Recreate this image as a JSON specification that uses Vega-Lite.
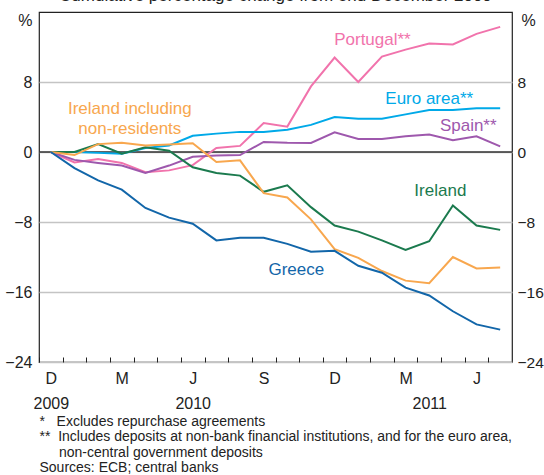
{
  "$schema": "https://vega.github.io/schema/vega-lite/v6.json",
  "width": 473,
  "height": 350,
  "autosize": {"type": "none"},
  "padding": {"left": 39, "top": 12, "right": 32, "bottom": 113},
  "config": {
    "view": {"stroke": "#222", "strokeWidth": 1.2},
    "font": "Liberation Sans",
    "axisX": {"labelOverlap": false}
  },
  "title": {
    "text": "Cumulative percentage change from end December 2009",
    "fontSize": 17,
    "fontWeight": "normal",
    "color": "#222",
    "baseline": "bottom",
    "offset": -9.5,
    "frame": "group",
    "anchor": "middle"
  },
  "datasets": {
    "zero": [{"v": 0}],
    "series": [
      {"s": "Portugal", "m": 0, "v": 0}, {"s": "Portugal", "m": 1, "v": -1.2}, {"s": "Portugal", "m": 2, "v": -0.8}, {"s": "Portugal", "m": 3, "v": -1.25}, {"s": "Portugal", "m": 4, "v": -2.3}, {"s": "Portugal", "m": 5, "v": -2.1}, {"s": "Portugal", "m": 6, "v": -1.5}, {"s": "Portugal", "m": 7, "v": 0.45}, {"s": "Portugal", "m": 8, "v": 0.7}, {"s": "Portugal", "m": 9, "v": 3.3}, {"s": "Portugal", "m": 10, "v": 2.9}, {"s": "Portugal", "m": 11, "v": 7.5}, {"s": "Portugal", "m": 12, "v": 10.8}, {"s": "Portugal", "m": 13, "v": 8.0}, {"s": "Portugal", "m": 14, "v": 10.9}, {"s": "Portugal", "m": 15, "v": 11.7}, {"s": "Portugal", "m": 16, "v": 12.4}, {"s": "Portugal", "m": 17, "v": 12.3}, {"s": "Portugal", "m": 18, "v": 13.5}, {"s": "Portugal", "m": 19, "v": 14.3},
      {"s": "Euro area", "m": 0, "v": 0}, {"s": "Euro area", "m": 1, "v": 0}, {"s": "Euro area", "m": 2, "v": -0.1}, {"s": "Euro area", "m": 3, "v": -0.2}, {"s": "Euro area", "m": 4, "v": 0.45}, {"s": "Euro area", "m": 5, "v": 0.75}, {"s": "Euro area", "m": 6, "v": 1.85}, {"s": "Euro area", "m": 7, "v": 2.1}, {"s": "Euro area", "m": 8, "v": 2.3}, {"s": "Euro area", "m": 9, "v": 2.3}, {"s": "Euro area", "m": 10, "v": 2.55}, {"s": "Euro area", "m": 11, "v": 3.1}, {"s": "Euro area", "m": 12, "v": 4.0}, {"s": "Euro area", "m": 13, "v": 3.8}, {"s": "Euro area", "m": 14, "v": 3.8}, {"s": "Euro area", "m": 15, "v": 4.3}, {"s": "Euro area", "m": 16, "v": 4.8}, {"s": "Euro area", "m": 17, "v": 4.8}, {"s": "Euro area", "m": 18, "v": 5.0}, {"s": "Euro area", "m": 19, "v": 5.0},
      {"s": "Spain", "m": 0, "v": 0}, {"s": "Spain", "m": 1, "v": -0.9}, {"s": "Spain", "m": 2, "v": -1.25}, {"s": "Spain", "m": 3, "v": -1.55}, {"s": "Spain", "m": 4, "v": -2.4}, {"s": "Spain", "m": 5, "v": -1.55}, {"s": "Spain", "m": 6, "v": -0.55}, {"s": "Spain", "m": 7, "v": -0.4}, {"s": "Spain", "m": 8, "v": -0.35}, {"s": "Spain", "m": 9, "v": 1.15}, {"s": "Spain", "m": 10, "v": 1.05}, {"s": "Spain", "m": 11, "v": 1.03}, {"s": "Spain", "m": 12, "v": 2.25}, {"s": "Spain", "m": 13, "v": 1.5}, {"s": "Spain", "m": 14, "v": 1.5}, {"s": "Spain", "m": 15, "v": 1.8}, {"s": "Spain", "m": 16, "v": 2.0}, {"s": "Spain", "m": 17, "v": 1.35}, {"s": "Spain", "m": 18, "v": 1.8}, {"s": "Spain", "m": 19, "v": 0.65},
      {"s": "Ireland", "m": 0, "v": 0}, {"s": "Ireland", "m": 1, "v": 0}, {"s": "Ireland", "m": 2, "v": 0.9}, {"s": "Ireland", "m": 3, "v": -0.2}, {"s": "Ireland", "m": 4, "v": 0.55}, {"s": "Ireland", "m": 5, "v": 0.15}, {"s": "Ireland", "m": 6, "v": -1.75}, {"s": "Ireland", "m": 7, "v": -2.4}, {"s": "Ireland", "m": 8, "v": -2.7}, {"s": "Ireland", "m": 9, "v": -4.55}, {"s": "Ireland", "m": 10, "v": -3.8}, {"s": "Ireland", "m": 11, "v": -6.3}, {"s": "Ireland", "m": 12, "v": -8.4}, {"s": "Ireland", "m": 13, "v": -9.1}, {"s": "Ireland", "m": 14, "v": -10.1}, {"s": "Ireland", "m": 15, "v": -11.2}, {"s": "Ireland", "m": 16, "v": -10.2}, {"s": "Ireland", "m": 17, "v": -6.1}, {"s": "Ireland", "m": 18, "v": -8.4}, {"s": "Ireland", "m": 19, "v": -8.9},
      {"s": "Ireland incl", "m": 0, "v": 0}, {"s": "Ireland incl", "m": 1, "v": -0.35}, {"s": "Ireland incl", "m": 2, "v": 0.9}, {"s": "Ireland incl", "m": 3, "v": 1.05}, {"s": "Ireland incl", "m": 4, "v": 0.75}, {"s": "Ireland incl", "m": 5, "v": 0.85}, {"s": "Ireland incl", "m": 6, "v": 1.0}, {"s": "Ireland incl", "m": 7, "v": -1.15}, {"s": "Ireland incl", "m": 8, "v": -0.95}, {"s": "Ireland incl", "m": 9, "v": -4.7}, {"s": "Ireland incl", "m": 10, "v": -5.2}, {"s": "Ireland incl", "m": 11, "v": -7.7}, {"s": "Ireland incl", "m": 12, "v": -11.1}, {"s": "Ireland incl", "m": 13, "v": -12.1}, {"s": "Ireland incl", "m": 14, "v": -13.6}, {"s": "Ireland incl", "m": 15, "v": -14.7}, {"s": "Ireland incl", "m": 16, "v": -15.0}, {"s": "Ireland incl", "m": 17, "v": -12.0}, {"s": "Ireland incl", "m": 18, "v": -13.3}, {"s": "Ireland incl", "m": 19, "v": -13.2},
      {"s": "Greece", "m": 0, "v": 0}, {"s": "Greece", "m": 1, "v": -1.85}, {"s": "Greece", "m": 2, "v": -3.25}, {"s": "Greece", "m": 3, "v": -4.3}, {"s": "Greece", "m": 4, "v": -6.4}, {"s": "Greece", "m": 5, "v": -7.5}, {"s": "Greece", "m": 6, "v": -8.2}, {"s": "Greece", "m": 7, "v": -10.1}, {"s": "Greece", "m": 8, "v": -9.8}, {"s": "Greece", "m": 9, "v": -9.8}, {"s": "Greece", "m": 10, "v": -10.5}, {"s": "Greece", "m": 11, "v": -11.4}, {"s": "Greece", "m": 12, "v": -11.3}, {"s": "Greece", "m": 13, "v": -13.0}, {"s": "Greece", "m": 14, "v": -13.8}, {"s": "Greece", "m": 15, "v": -15.5}, {"s": "Greece", "m": 16, "v": -16.4}, {"s": "Greece", "m": 17, "v": -18.2}, {"s": "Greece", "m": 18, "v": -19.7}, {"s": "Greece", "m": 19, "v": -20.3}
    ],
    "labels": [
      {"s": "Portugal", "m": 13.6, "v": 12.8, "t": "Portugal**"},
      {"s": "Euro area", "m": 16.0, "v": 6.1, "t": "Euro area**"},
      {"s": "Spain", "m": 17.65, "v": 3.0, "t": "Spain**"},
      {"s": "Ireland incl", "m": 3.34, "v": 4.95, "t": ["Ireland including", "non-residents"]},
      {"s": "Ireland", "m": 16.47, "v": -4.5, "t": "Ireland"},
      {"s": "Greece", "m": 10.38, "v": -13.5, "t": "Greece"}
    ]
  },
  "layer": [
    {
      "data": {"name": "zero"},
      "mark": {"type": "rule", "color": "#333", "strokeWidth": 1.5},
      "encoding": {
        "y": {"field": "v", "type": "quantitative", "scale": {"domain": [-24, 16], "nice": false}, "axis": null}
      }
    },
    {
      "data": {"name": "series"},
      "mark": {"type": "line", "strokeWidth": 2},
      "encoding": {
        "x": {
          "field": "m", "type": "quantitative",
          "scale": {"domain": [-0.5, 19.5], "nice": false, "zero": false},
          "axis": {
            "values": [0,1,2,3,4,5,6,7,8,9,10,11,12,13,14,15,16,17,18,19],
            "tickOffset": -11.825,
            "labelOffset": 11.825,
            "tickSize": -5,
            "tickColor": "#222",
            "tickWidth": 1,
            "domain": false,
            "grid": false,
            "labelExpr": "datum.value == 0 ? ['D','2009'] : datum.value == 3 ? 'M' : datum.value == 6 ? ['J','2010'] : datum.value == 9 ? 'S' : datum.value == 12 ? 'D' : datum.value == 15 ? 'M' : datum.value == 16 ? ['','2011'] : datum.value == 18 ? 'J' : ''",
            "labelFontSize": 16,
            "labelColor": "#222",
            "labelPadding": 13,
            "labelLineHeight": 25,
            "labelOverlap": false,
            "labelFlush": false,
            "labelBound": false,
            "title": ["\u00a0*\u00a0\u00a0\u00a0Excludes repurchase agreements", "**\u00a0\u00a0Includes deposits at non-bank financial institutions, and for the euro area,", "\u200b\u00a0\u00a0\u00a0\u00a0\u00a0non-central government deposits", "Sources: ECB; central banks"],
            "titleX": 0,
            "titleY": 52,
            "titleAlign": "left",
            "titleAnchor": "start",
            "titleBaseline": "top",
            "titleFontSize": 14,
            "titleFontWeight": "normal",
            "titleLineHeight": 15.5,
            "titleColor": "#222"
          }
        },
        "y": {
          "field": "v", "type": "quantitative",
          "scale": {"domain": [-24, 16], "nice": false},
          "axis": {
            "orient": "left",
            "values": [-24, -16, -8, 0, 8],
            "grid": true,
            "gridColor": "#C4C4C4",
            "gridWidth": 1.3,
            "ticks": false,
            "domain": false,
            "labelFontSize": 16,
            "labelColor": "#222",
            "labelPadding": 7,
            "labelFlush": false,
            "title": "%",
            "titleAngle": 0,
            "titleAlign": "right",
            "titleBaseline": "middle",
            "titleX": -7,
            "titleY": 8,
            "titleFontSize": 16,
            "titleFontWeight": "normal",
            "titleColor": "#222"
          }
        },
        "color": {
          "field": "s", "type": "nominal",
          "scale": {"domain": ["Portugal", "Euro area", "Spain", "Ireland", "Ireland incl", "Greece"], "range": ["#F173AC", "#00A9E8", "#9E58AD", "#1B7A4E", "#F8A74E", "#1266A9"]},
          "legend": null
        }
      }
    },
    {
      "data": {"name": "labels"},
      "mark": {"type": "text", "fontSize": 17, "lineHeight": 20, "align": "center", "baseline": "middle"},
      "encoding": {
        "x": {
          "field": "m", "type": "quantitative",
          "axis": {
            "values": [0,1,2,3,4,5,6,7,8,9,10,11,12,13,14,15,16,17,18,19],
            "tickOffset": -11.825,
            "labelOffset": 11.825,
            "tickSize": -5,
            "tickColor": "#222",
            "tickWidth": 1,
            "domain": false,
            "grid": false,
            "labelExpr": "datum.value == 0 ? ['D','2009'] : datum.value == 3 ? 'M' : datum.value == 6 ? ['J','2010'] : datum.value == 9 ? 'S' : datum.value == 12 ? 'D' : datum.value == 15 ? 'M' : datum.value == 16 ? ['','2011'] : datum.value == 18 ? 'J' : ''",
            "labelFontSize": 16,
            "labelColor": "#222",
            "labelPadding": 13,
            "labelLineHeight": 25,
            "labelOverlap": false,
            "labelFlush": false,
            "labelBound": false,
            "title": ["\u00a0*\u00a0\u00a0\u00a0Excludes repurchase agreements", "**\u00a0\u00a0Includes deposits at non-bank financial institutions, and for the euro area,", "\u200b\u00a0\u00a0\u00a0\u00a0\u00a0non-central government deposits", "Sources: ECB; central banks"],
            "titleX": 0,
            "titleY": 52,
            "titleAlign": "left",
            "titleAnchor": "start",
            "titleBaseline": "top",
            "titleFontSize": 14,
            "titleFontWeight": "normal",
            "titleLineHeight": 15.5,
            "titleColor": "#222"
          }
        },
        "y": {
          "field": "v", "type": "quantitative",
          "scale": {"domain": [-24, 16], "nice": false},
          "axis": {
            "orient": "right",
            "values": [-24, -16, -8, 0, 8],
            "grid": false,
            "ticks": false,
            "domain": false,
            "labelFontSize": 15.5,
            "labelColor": "#222",
            "labelPadding": 5,
            "labelFlush": false,
            "title": "%",
            "titleAngle": 0,
            "titleAlign": "left",
            "titleBaseline": "middle",
            "titleX": 9,
            "titleY": 8,
            "titleFontSize": 16,
            "titleFontWeight": "normal",
            "titleColor": "#222"
          }
        },
        "text": {"field": "t"},
        "color": {"field": "s", "type": "nominal", "legend": null}
      }
    }
  ],
  "resolve": {"axis": {"y": "independent"}}
}
